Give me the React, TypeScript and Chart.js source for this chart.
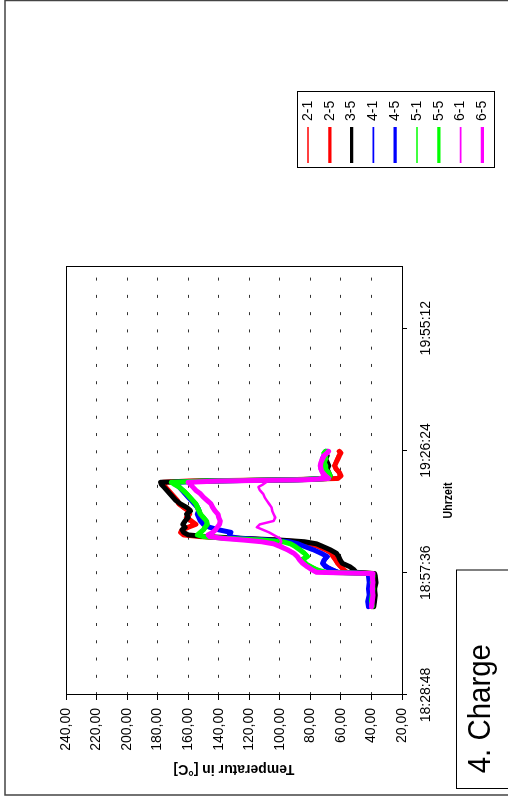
import React, { useEffect, useRef } from 'react';
import { Chart, registerables } from 'chart.js';

Chart.register(...registerables);

const FONT = "'Liberation Sans', Arial, sans-serif";

const SERIES_LABELS = ['2-1', '2-5', '3-5', '4-1', '4-5', '5-1', '5-5', '6-1', '6-5'];
const SERIES_COLORS = ['#FF0000', '#FF0000', '#000000', '#0000FF', '#0000FF', '#00FF00', '#00FF00', '#FF00FF', '#FF00FF'];
const SERIES_WIDTHS = [2.5, 5, 5, 2.5, 5, 2.5, 5, 2.5, 5];

const TIMES = [
  '18:49:36', '18:50:48', '18:52:18', '18:53:48', '18:55:18', '18:56:48', '18:57:24', '18:57:42',
  '18:58:18', '18:59:00', '18:59:48', '19:00:36', '19:01:24', '19:02:12', '19:03:00', '19:03:48',
  '19:04:24', '19:04:54', '19:05:18', '19:05:42', '19:06:06', '19:06:30', '19:07:06', '19:07:42',
  '19:08:18', '19:09:00', '19:09:48', '19:10:36', '19:11:24', '19:12:12', '19:13:00', '19:13:48',
  '19:14:36', '19:15:24', '19:16:12', '19:17:00', '19:17:48', '19:18:24', '19:18:54', '19:19:12',
  '19:19:30', '19:19:48', '19:20:24', '19:21:12', '19:22:00', '19:22:48', '19:23:36', '19:24:24',
  '19:25:12', '19:25:48', '19:26:12',
];

const T_2_1 = [39.5, 39, 38.5, 39, 38.5, 38.5, 39, 57, 59, 61, 63, 64, 66, 67, 71, 76, 81, 90, 106, 132, 153, 162, 164, 163, 161, 157, 159, 162, 160, 161, 164, 167, 168, 170, 172, 174, 175.5, 176.5, 177, 162, 98, 63, 61, 62, 64, 65, 64, 63, 62, 61, 62];
const T_2_5 = [39, 38.5, 38, 38.5, 38, 38, 38.5, 56, 58, 60, 62, 63.5, 65, 66, 70, 75, 80, 88, 104, 130, 152, 163, 165, 164, 160, 155, 158, 161, 159, 160, 163, 166, 167, 169, 171, 173, 175, 176, 176.5, 160, 95, 62, 60, 61, 63, 64, 63, 62, 61, 60, 61];
const T_3_5 = [38.5, 38, 37.5, 38, 37, 37.5, 38, 50, 51.5, 54, 59, 60.5, 61.5, 63, 67, 72, 76, 84, 100, 125, 148, 160, 163, 164, 162, 163.5, 162, 160, 161, 158.5, 161, 165, 168, 170, 172, 174, 176, 177.5, 178, 150, 85, 68, 67, 68, 69, 68, 69, 70, 69, 70, 69];
const T_4_1 = [41.5, 42, 41, 41.5, 41, 41.5, 41, 60, 64, 68, 71, 70, 68, 72, 77, 83, 87, 93, 106, 124, 131, 132, 133, 139, 145, 149, 151, 152, 153, 152, 153, 155, 157, 159, 161, 163, 165, 167, 168, 143, 86, 71, 71, 72, 73, 73, 72, 73, 72, 71, 71];
const T_4_5 = [42, 42.5, 41.5, 42, 41.5, 42, 41.5, 62, 66, 70, 72, 71, 69, 73, 78, 84, 88, 94, 108, 126, 133, 133, 132, 140, 146, 150, 152, 153, 154, 153, 154, 156, 158, 160, 162, 164, 166, 168, 169, 145, 88, 70, 70, 71, 72, 72, 71, 72, 71, 70, 70];
const T_5_1 = [40, 40.5, 40, 39.5, 40, 39.5, 40, 68, 74, 78, 82, 84, 81, 83, 86, 89, 92, 97, 110, 133, 148, 152, 151, 149, 148, 147, 147.5, 149, 151, 152, 153, 154, 156, 158, 160, 162, 165, 168, 170, 148, 88, 69, 68, 69, 71, 71, 72, 71, 71, 72, 71];
const T_5_5 = [39.5, 40, 39.5, 39, 39.5, 39, 39.5, 70, 76, 80, 84, 86, 82, 84, 87, 90, 93, 98, 112, 135, 150, 154, 152, 150, 149, 147.5, 148, 150, 152, 153, 154, 155, 157, 159, 161, 163.5, 166, 169, 171, 150, 90, 68, 67, 68, 70, 70, 71, 70, 70, 71, 70];
const T_6_1 = [40.5, 40, 39.5, 40, 39.5, 40, 39.5, 75, 78, 81, 84, 86, 88, 90, 94, 98, 100, 99, 99.5, 100, 102, 104, 107, 111, 115, 113, 104, 103, 104, 105, 105.5, 107, 108.5, 110, 111, 113, 114, 111, 109, 108.5, 100, 75, 72, 73, 74, 74, 73.5, 73, 72, 70, 69];
const T_6_5 = [40, 39.5, 39, 39.5, 39, 39.5, 39, 76, 79, 82, 85, 87, 88.5, 91, 95, 100, 104, 112, 124, 138, 146, 147, 144, 142, 141, 139.5, 139, 140, 140.5, 142.5, 144, 145, 147.5, 150, 152, 155, 157, 158.5, 160, 140, 82, 68, 70, 72, 73, 73.5, 73, 72, 71, 69, 68];

const SERIES_VALUES = [T_2_1, T_2_5, T_3_5, T_4_1, T_4_5, T_5_1, T_5_5, T_6_1, T_6_5];

const TIME_TICKS = ['18:28:48', '18:57:36', '19:26:24', '19:55:12'];
const TIME_MIN = '18:28:48';
const TIME_MAX = '20:09:36';
const TEMP_MIN = 20;
const TEMP_MAX = 240;
const TEMP_STEP = 20;

const X_TITLE = 'Uhrzeit';
const Y_TITLE = 'Temperatur in [°C]';
const BOX_TEXT = '4. Charge';

const toSec = (s: string) => {
  const [h, m, sec] = s.split(':').map(Number);
  return h * 3600 + m * 60 + sec;
};
const pad2 = (n: number) => String(n).padStart(2, '0');
const fmtTime = (v: number) => {
  const t = Math.round(v);
  return `${pad2(Math.floor(t / 3600))}:${pad2(Math.floor((t % 3600) / 60))}:${pad2(t % 60)}`;
};

const framePlugin = {
  id: 'framePlugin',
  afterDraw(chart: any) {
    const ctx = chart.ctx as CanvasRenderingContext2D;
    const a = chart.chartArea;
    ctx.save();
    // plot border
    ctx.strokeStyle = '#000';
    ctx.lineWidth = 1;
    ctx.setLineDash([]);
    ctx.strokeRect(Math.round(a.left) + 0.5, Math.round(a.top) + 0.5, Math.round(a.right - a.left), Math.round(a.bottom - a.top));

    // page frame
    ctx.strokeStyle = '#444';
    ctx.lineWidth = 1.5;
    ctx.strokeRect(5, 5, 794.5, 600);

    // legend
    const LX = 632, LY = 297, LW = 76, LH = 197;
    ctx.strokeStyle = '#000';
    ctx.lineWidth = 1;
    ctx.strokeRect(LX + 0.5, LY + 0.5, LW, LH);
    ctx.font = `14px ${FONT}`;
    ctx.textBaseline = 'middle';
    ctx.textAlign = 'left';
    chart.data.datasets.forEach((ds: any, i: number) => {
      const cy = 308 + i * 21.8;
      ctx.strokeStyle = ds.borderColor;
      ctx.lineWidth = ds.borderWidth > 3 ? 3.2 : 1.6;
      ctx.lineCap = 'butt';
      ctx.beginPath();
      ctx.moveTo(637, cy);
      ctx.lineTo(673, cy);
      ctx.stroke();
      ctx.fillStyle = '#000';
      ctx.fillText(ds.label, 679, cy);
    });

    // x axis title
    ctx.save();
    ctx.translate(299.5, 449);
    ctx.scale(0.88, 1);
    ctx.font = `bold 12px ${FONT}`;
    ctx.textAlign = 'center';
    ctx.textBaseline = 'middle';
    ctx.fillStyle = '#000';
    ctx.fillText(X_TITLE, 0, 0);
    ctx.restore();

    // "4. Charge" box
    ctx.strokeStyle = '#000';
    ctx.lineWidth = 1;
    ctx.strokeRect(11.5, 456.5, 218.5, 80);
    ctx.save();
    ctx.translate(26.7, 490);
    ctx.scale(0.92, 1);
    ctx.font = `32px ${FONT}`;
    ctx.textAlign = 'left';
    ctx.textBaseline = 'alphabetic';
    ctx.fillStyle = '#000';
    ctx.fillText(BOX_TEXT, 0, 0);
    ctx.restore();

    ctx.restore();
  },
};

export default function App() {
  const canvasRef = useRef<HTMLCanvasElement | null>(null);

  useEffect(() => {
    const canvas = canvasRef.current;
    if (!canvas) return;
    const n = SERIES_LABELS.length;
    const chart = new Chart(canvas, {
      type: 'line',
      data: {
        datasets: SERIES_VALUES.map((vals, i) => ({
          label: SERIES_LABELS[i],
          data: TIMES.map((t, k) => ({ x: toSec(t), y: vals[k] })),
          borderColor: SERIES_COLORS[i],
          backgroundColor: SERIES_COLORS[i],
          borderWidth: SERIES_WIDTHS[i],
          pointRadius: 0,
          tension: 0,
          fill: false,
          borderJoinStyle: 'round',
          borderCapStyle: 'round',
          order: n - 1 - i,
        })),
      },
      options: {
        animation: false,
        responsive: false,
        maintainAspectRatio: false,
        devicePixelRatio: 1,
        events: [],
        layout: { padding: { left: 0, top: 66, right: 267, bottom: 0 } },
        plugins: {
          legend: { display: false },
          tooltip: { enabled: false },
          title: { display: false },
        },
        scales: {
          x: {
            type: 'linear',
            position: 'bottom',
            min: toSec(TIME_MIN),
            max: toSec(TIME_MAX),
            afterBuildTicks: (s: any) => {
              s.ticks = TIME_TICKS.map((t) => ({ value: toSec(t) }));
            },
            afterFit: (s: any) => {
              s.height = 106;
            },
            ticks: {
              callback: (v: any) => fmtTime(Number(v)),
              color: '#000',
              font: { family: FONT, size: 14 },
              padding: 11,
              maxRotation: 0,
              autoSkip: false,
            },
            grid: { drawOnChartArea: false, drawTicks: true, tickLength: 5, color: '#000', lineWidth: 1 },
            border: { display: true, color: '#000', width: 1 },
            title: { display: false },
          },
          y: {
            type: 'linear',
            position: 'left',
            min: TEMP_MIN,
            max: TEMP_MAX,
            afterFit: (s: any) => {
              s.width = 105;
            },
            ticks: {
              stepSize: TEMP_STEP,
              callback: (v: any) => Number(v).toFixed(2).replace('.', ','),
              color: '#000',
              font: { family: FONT, size: 14 },
              padding: 8,
              autoSkip: false,
            },
            grid: {
              drawOnChartArea: true,
              drawTicks: true,
              tickLength: 5,
              color: '#333',
              tickColor: '#000',
              lineWidth: 1,
              tickBorderDash: [],
            },
            border: { display: true, color: '#000', width: 1, dash: [3, 14.27], dashOffset: 1.07 },
            title: {
              display: true,
              text: Y_TITLE,
              color: '#000',
              font: { family: FONT, size: 14, weight: 'bold' },
              padding: { top: 23, bottom: 0 },
            },
          },
        },
      } as any,
      plugins: [framePlugin],
    });
    return () => chart.destroy();
  }, []);

  return (
    <div style={{ position: 'fixed', left: 0, top: 0, width: 508, height: 800, overflow: 'hidden', background: '#fff' }}>
      <div
        style={{
          position: 'absolute',
          left: 0,
          top: 0,
          width: 800,
          height: 508,
          transformOrigin: '0 0',
          transform: 'translate(0px, 800px) rotate(-90deg)',
        }}
      >
        <canvas ref={canvasRef} width={800} height={508} style={{ display: 'block', width: 800, height: 508 }} />
      </div>
    </div>
  );
}
